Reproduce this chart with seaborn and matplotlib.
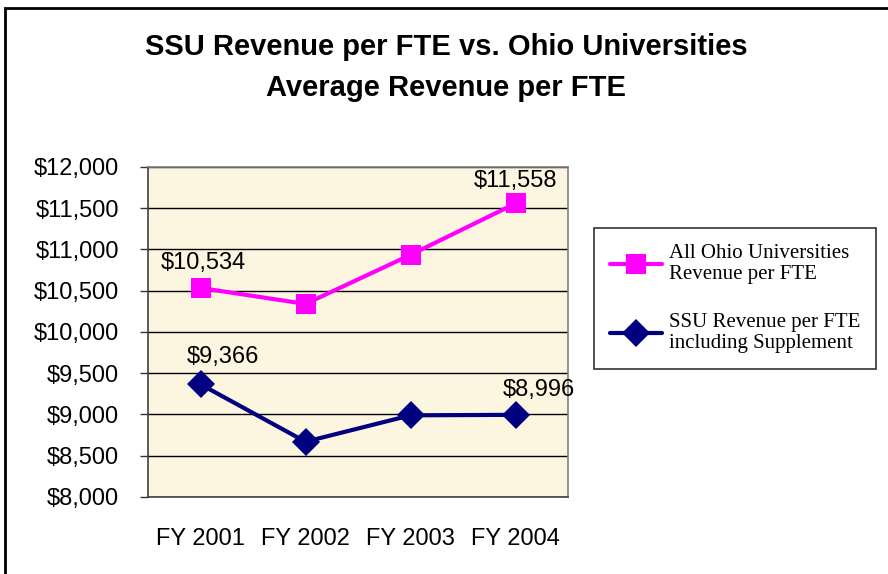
import matplotlib
matplotlib.use("Agg")
import matplotlib.pyplot as plt
import seaborn as sns
import pandas as pd
from matplotlib.patches import Rectangle
from matplotlib.ticker import FuncFormatter

# data
years = ["FY 2001", "FY 2002", "FY 2003", "FY 2004"]
ohio_avg = [10534, 10340, 10935, 11558]
ssu_rev = [9366, 8670, 8990, 8996]
ohio_name = "All Ohio Universities\nRevenue per FTE"
ssu_name = "SSU Revenue per FTE\nincluding Supplement"

df = pd.DataFrame({
    "year": years * 2,
    "x": list(range(len(years))) * 2,
    "value": ohio_avg + ssu_rev,
    "series": [ohio_name] * len(years) + [ssu_name] * len(years),
})

sns.set_style("white")
plt.rcParams["font.family"] = ["Liberation Sans", "DejaVu Sans"]
plt.rcParams["text.color"] = "black"
plt.rcParams["xtick.color"] = "black"
plt.rcParams["ytick.color"] = "black"

fig = plt.figure(figsize=(8.88, 5.74), dpi=100)
ax = fig.add_axes([148 / 888, 1 - 497 / 574, 420 / 888, 330 / 574])
ax.set_facecolor("#FCF5E0")

sns.lineplot(data=df, x="x", y="value", hue="series", style="series",
             palette={ohio_name: "#FF00FF", ssu_name: "#000080"},
             markers={ohio_name: "s", ssu_name: "D"},
             dashes=False, linewidth=3, markersize=14,
             markeredgewidth=0, ax=ax, legend=True)

ax.set_xlim(-0.5, 3.5)
ax.set_ylim(8000, 12000)
ax.set_yticks(range(8000, 12001, 500))
ax.yaxis.set_major_formatter(FuncFormatter(lambda v, p: f"${v:,.0f}"))
ax.set_xticks(range(len(years)))
ax.set_xticklabels(years)
ax.set_xticks([-0.5, 0.5, 1.5, 2.5, 3.5], minor=True)
ax.tick_params(axis="x", which="major", length=0, pad=22, labelsize=17)
ax.tick_params(axis="x", which="minor", length=6, width=1, color="#333333")
ax.tick_params(axis="y", length=6, width=1, color="#333333", pad=15, labelsize=17, left=True)
ax.set_xlabel("")
ax.set_ylabel("")
ax.grid(axis="y", color="black", linewidth=1)
ax.set_axisbelow(True)
for side in ["top", "right"]:
    ax.spines[side].set_color("#808080")
for side in ["left", "bottom"]:
    ax.spines[side].set_color("#404040")
for s in ax.spines.values():
    s.set_linewidth(1.2)

# data labels on first and last points
ax.annotate(f"${ohio_avg[0]:,}", (0, ohio_avg[0]), xytext=(2, 18), textcoords="offset points",
            ha="center", va="center", fontsize=17)
ax.annotate(f"${ohio_avg[-1]:,}", (3, ohio_avg[-1]), xytext=(0, 16), textcoords="offset points",
            ha="center", va="center", fontsize=17)
ax.annotate(f"${ssu_rev[0]:,}", (0, ssu_rev[0]), xytext=(16, 20), textcoords="offset points",
            ha="center", va="center", fontsize=17)
ax.annotate(f"${ssu_rev[-1]:,}", (3, ssu_rev[-1]), xytext=(17, 18), textcoords="offset points",
            ha="center", va="center", fontsize=17)

handles, labels = ax.get_legend_handles_labels()
ax.legend_.remove()
leg = fig.legend(handles, labels, loc="upper left",
                 bbox_to_anchor=(594 / 888, 1 - 228 / 574),
                 frameon=True, fancybox=False, edgecolor="black",
                 prop={"family": "Liberation Serif", "size": 15},
                 handlelength=2.5, labelspacing=1.35, borderpad=0.75,
                 handletextpad=0.35, borderaxespad=0)
leg.get_frame().set_linewidth(1.2)

fig.text(446 / 888, 1 - 47 / 574, "SSU Revenue per FTE vs. Ohio Universities",
         ha="center", va="center", fontsize=21, fontweight="bold")
fig.text(446 / 888, 1 - 88 / 574, "Average Revenue per FTE",
         ha="center", va="center", fontsize=21, fontweight="bold")

# outer chart border (right and bottom edges are cut off in the original)
fig.patches.append(Rectangle((5 / 888, -0.1), 1.2, 1.1 - 8 / 574,
                             transform=fig.transFigure, fill=False,
                             edgecolor="black", linewidth=2))

fig.savefig("out.png", dpi=100)
